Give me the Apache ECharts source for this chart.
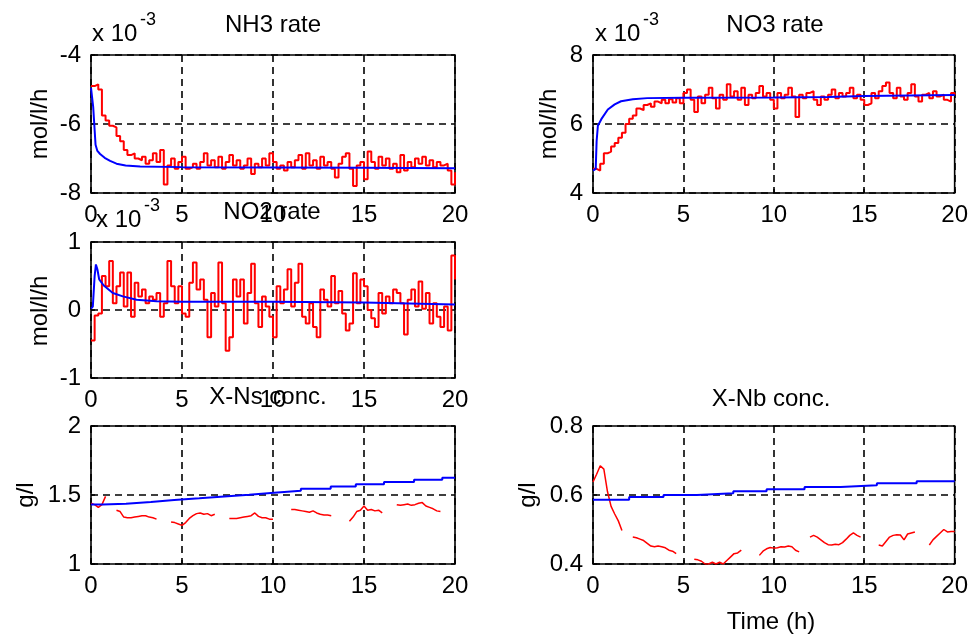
<!DOCTYPE html>
<html>
<head>
<meta charset="utf-8">
<script src="https://cdn.jsdelivr.net/npm/echarts@6/dist/echarts.min.js"></script>
<style>
html,body{margin:0;padding:0;background:#fff;}
#chart{width:971px;height:637px;}
</style>
</head>
<body>
<div id="chart"></div>
<script>
// ---- sample times of the measured (red) signals, hours ----
const tMeas = [0,0.2,0.4,0.6,0.8,1,1.2,1.4,1.6,1.8,2,2.2,2.4,2.6,2.8,3,3.2,3.4,3.6,3.8,4,4.2,4.4,4.6,4.8,5,5.2,5.4,5.6,5.8,6,6.2,6.4,6.6,6.8,7,7.2,7.4,7.6,7.8,8,8.2,8.4,8.6,8.8,9,9.2,9.4,9.6,9.8,10,10.2,10.4,10.6,10.8,11,11.2,11.4,11.6,11.8,12,12.2,12.4,12.6,12.8,13,13.2,13.4,13.6,13.8,14,14.2,14.4,14.6,14.8,15,15.2,15.4,15.6,15.8,16,16.2,16.4,16.6,16.8,17,17.2,17.4,17.6,17.8,18,18.2,18.4,18.6,18.8,19,19.2,19.4,19.6,19.8,20];

// ---- NH3 rate (x 1e-3 mol/l/h) ----
const nh3Meas = [-4.9,-4.85,-5.0,-5.75,-5.9,-6.05,-6.1,-6.35,-6.5,-6.75,
 -6.9,-6.85,-7.0,-7.05,-6.95,-7.15,-7.05,-6.85,-7.1,-6.75,
 -7.75,-7.2,-7.0,-7.3,-7.1,-6.95,-7.3,-7.25,-7.15,-7.3,
 -7.1,-6.85,-7.2,-7.05,-7.25,-6.95,-7.3,-7.1,-6.9,-7.2,
 -7.05,-7.3,-7.2,-7.0,-7.45,-7.15,-7.25,-7.0,-7.2,-6.85,
 -7.1,-7.3,-7.2,-7.35,-7.1,-7.25,-7.05,-6.9,-7.3,-6.85,
 -7.2,-7.05,-7.3,-6.95,-7.2,-7.1,-7.3,-7.55,-7.15,-6.95,
 -6.85,-7.3,-7.8,-7.2,-7.1,-7.6,-6.8,-7.1,-7.3,-6.95,
 -7.2,-7.0,-7.3,-7.15,-7.4,-6.9,-7.35,-7.1,-7.25,-7.0,
 -7.15,-6.95,-7.2,-7.05,-7.25,-7.1,-7.2,-7.15,-7.35,-7.75,
 -7.4];
const nh3ModelT = [0,0.1,0.12,0.22,0.25,0.35,0.5,0.75,1.05,1.4,1.9,2.7,5,10,15,20];
const nh3ModelV = [-4.95,-5.0,-5.5,-5.55,-6.6,-6.78,-6.87,-6.98,-7.07,-7.15,-7.2,-7.23,-7.25,-7.26,-7.27,-7.28];

// ---- NO3 rate (x 1e-3 mol/l/h) ----
const no3Meas = [4.7,4.65,4.85,5.15,5.2,5.35,5.45,5.6,5.75,6.0,
 6.15,6.25,6.45,6.4,6.55,6.6,6.5,6.65,6.6,6.7,
 6.6,6.72,6.62,6.75,6.6,6.9,7.0,6.7,6.35,6.8,
 6.6,6.85,7.05,6.75,6.45,6.85,6.7,7.15,6.8,6.95,
 6.7,7.05,6.55,6.85,6.75,6.9,7.1,6.8,6.9,6.7,
 6.45,6.9,6.75,6.85,7.05,6.8,6.2,6.85,6.75,6.9,
 6.95,6.7,6.55,6.8,6.7,6.85,7.0,6.75,6.9,6.8,
 6.9,7.05,6.75,6.85,6.7,6.55,6.6,6.9,6.75,6.95,
 7.1,7.2,6.9,6.75,7.05,6.8,6.7,6.9,7.15,6.8,
 6.65,6.85,6.9,6.75,6.95,6.8,6.85,6.7,6.65,6.9,
 6.85];
const no3ModelT = [0,0.15,0.2,0.27,0.46,0.82,1.2,1.55,2.2,3.0,5,10,13,15,20];
const no3ModelV = [4.65,4.7,5.5,5.95,6.14,6.42,6.57,6.66,6.72,6.75,6.76,6.77,6.78,6.81,6.84];

// ---- NO2 rate (x 1e-3 mol/l/h) ----
const no2Meas = [-0.45,-0.08,-0.05,0.5,0.35,0.72,0.1,0.35,0.55,0.05,
 0.55,-0.1,0.4,0.2,0.3,0.1,0.2,0.15,0.25,-0.1,
 0.1,0.72,0.35,0.1,0.35,-0.05,-0.1,0.4,0.7,0.3,
 0.45,0.15,-0.4,0.25,0.05,0.7,0.1,-0.6,-0.4,0.45,
 0.2,0.45,-0.2,0.25,0.68,0.1,-0.25,0.2,0.05,-0.1,
 -0.4,0.35,0.1,0.3,0.6,0.05,0.4,0.68,-0.1,-0.2,
 0.1,-0.25,-0.4,0.3,0.15,0.05,0.5,0.1,0.28,-0.05,
 -0.3,-0.2,0.54,0.1,0.45,0.35,0.0,-0.12,-0.25,0.25,
 -0.05,0.2,0.1,0.3,0.25,0.1,-0.36,0.15,0.3,0.05,
 0.42,0.02,0.25,-0.2,0.1,-0.1,-0.25,0.05,-0.3,0.8,
 0.45];
const no2ModelT = [0,0.1,0.2,0.27,0.35,0.45,0.7,1.2,1.75,2.5,3.6,5,10,15,20];
const no2ModelV = [0.02,0.05,0.5,0.67,0.6,0.45,0.36,0.25,0.2,0.15,0.13,0.12,0.12,0.11,0.08];

// ---- X-Ns concentration (g/l) ----
const xnsMeas = [1.44,1.43,1.41,1.43,1.49,null,null,1.39,1.38,1.34,
 1.335,1.335,1.34,1.345,1.35,1.35,1.34,1.335,1.325,null,
 null,null,1.305,1.3,1.29,1.28,1.3,1.33,1.35,1.365,
 1.37,1.36,1.365,1.35,1.36,null,null,null,1.33,1.33,
 1.33,1.335,1.34,1.345,1.35,1.37,1.345,1.335,1.335,1.325,
 1.325,null,null,null,null,1.395,1.395,1.39,1.385,1.38,
 1.375,1.385,1.37,1.36,1.355,1.355,1.35,null,null,null,
 null,1.31,1.34,1.38,1.39,1.42,1.39,1.395,1.385,1.39,
 1.37,null,null,null,1.43,1.425,1.43,1.435,1.425,1.43,
 1.44,1.445,1.42,1.41,1.4,1.385,1.38,null,null,null,
 null];
const xnsModelT = [0,0.64,1.92,3.29,4.57,5.95,7.32,8.69,10.06,11.53,13.17,14.55,16.1,17.75,19.3,20];
const xnsModelV = [1.432,1.437,1.45,1.463,1.476,1.49,1.502,1.516,1.53,1.546,1.562,1.578,1.595,1.61,1.625,1.625];

// ---- X-Nb concentration (g/l) ----
const xnbMeas = [0.638,0.66,0.685,0.675,0.61,0.567,0.545,0.525,0.497,null,
 null,0.478,0.476,0.472,0.468,0.46,0.452,0.45,0.452,0.45,
 0.447,0.44,0.437,0.43,null,null,null,null,0.414,0.412,
 0.408,0.4,0.4,0.405,0.4,0.405,0.4,0.41,0.42,0.43,
 0.432,0.44,null,null,null,null,0.425,0.437,0.444,0.448,
 0.446,0.447,0.45,0.449,0.452,0.45,0.44,0.435,null,null,
 0.478,0.483,0.478,0.47,0.462,0.456,0.455,0.457,0.456,0.462,
 0.472,0.483,0.49,0.483,0.478,null,null,null,null,0.455,
 0.452,0.465,0.478,0.483,0.485,0.484,0.47,0.487,0.49,0.493,
 null,null,null,0.455,0.47,0.48,0.49,0.5,0.493,0.494,
 0.494];
const xnbModelT = [0,2.0,3.9,5.75,7.76,9.6,11.7,13.7,15.7,17.9,20];
const xnbModelV = [0.586,0.594,0.6,0.605,0.611,0.617,0.623,0.628,0.634,0.64,0.64];

// ---- axes ----
const xTicks = {min:0, max:20, interval:5};
const yRanges = [
  {min:-8, max:-4, interval:2},
  {min:4, max:8, interval:2},
  {min:-1, max:1, interval:1},
  {min:1, max:2, interval:0.5},
  {min:0.4, max:0.8, interval:0.2}
];
const titles = ['NH3 rate','NO3 rate','NO2 rate','X-Ns conc.','X-Nb conc.'];
const yNames = ['mol/l/h','mol/l/h','mol/l/h','g/l','g/l'];

const FONT = '"Liberation Sans", Arial, Helvetica, sans-serif';
const grids = [
  {left:91, top:55, width:364, height:138},
  {left:593, top:55, width:365, height:138},
  {left:91, top:242, width:364, height:136},
  {left:91, top:426, width:364, height:138},
  {left:593, top:426, width:365, height:138}
];
const dash = {type:[7,5], color:'#000', width:1.6};

const zip = (a, b) => a.map((v, i) => [v, b[i]]);

const option = {
  backgroundColor:'#fff',
  animation:false,
  grid: grids.map(g => Object.assign({show:true, borderColor:'#000', borderWidth:1.6, backgroundColor:'#fff', containLabel:false}, g)),
  xAxis: grids.map((g, i) => ({
    type:'value', gridIndex:i, min:xTicks.min, max:xTicks.max, interval:xTicks.interval,
    axisLine:{show:false},
    axisTick:{show:true, inside:true, length:4, lineStyle:{color:'#000', width:1.5}},
    axisLabel:{color:'#000', fontSize:24, fontFamily:FONT, margin:10},
    splitLine:{show:true, lineStyle:dash}
  })),
  yAxis: grids.map((g, i) => ({
    type:'value', gridIndex:i, min:yRanges[i].min, max:yRanges[i].max, interval:yRanges[i].interval,
    axisLine:{show:false},
    axisTick:{show:true, inside:true, length:4, lineStyle:{color:'#000', width:1.5}},
    axisLabel:{color:'#000', fontSize:24, fontFamily:FONT, margin:10},
    splitLine:{show:true, lineStyle:dash}
  })),
  series: [],
  graphic: []
};

const meas = [nh3Meas, no3Meas, no2Meas, xnsMeas, xnbMeas];
const models = [[nh3ModelT,nh3ModelV],[no3ModelT,no3ModelV],[no2ModelT,no2ModelV],[xnsModelT,xnsModelV],[xnbModelT,xnbModelV]];
const measStep = [true, true, true, false, false];
const modelStep = [false, false, false, true, true];
const measWidth = [2, 2, 2, 1.5, 1.5];

meas.forEach((m, i) => {
  option.series.push({
    type:'line', xAxisIndex:i, yAxisIndex:i, symbol:'none', clip:true,
    step: measStep[i] ? 'end' : false,
    data: zip(tMeas, m),
    lineStyle:{color:'#ff0000', width:measWidth[i]},
    z:2
  });
  option.series.push({
    type:'line', xAxisIndex:i, yAxisIndex:i, symbol:'none', clip:true,
    step: modelStep[i] ? 'end' : false,
    data: zip(models[i][0], models[i][1]),
    lineStyle:{color:'#0000ff', width:2},
    z:3
  });
});

function txt(text, x, y, size, align, vAlign, rot) {
  return {
    type:'text', x:x, y:y, rotation: rot || 0, z:100,
    style:{text:text, fill:'#000', font: size + 'px ' + FONT,
      align:align, verticalAlign:vAlign, textAlign:align, textVerticalAlign:vAlign}
  };
}
const titlePos = [[273,25],[775,25],[272,212],[268,397],[771,399]];
titles.forEach((t, i) => option.graphic.push(txt(t, titlePos[i][0], titlePos[i][1], 24, 'center', 'middle')));
const yNamePos = [[40,124],[549,124],[40,311],[26,495],[528,495]];
yNames.forEach((t, i) => option.graphic.push(txt(t, yNamePos[i][0], yNamePos[i][1], 24, 'center', 'middle', Math.PI/2)));
option.graphic.push(txt('Time (h)', 771, 622, 24, 'center', 'middle'));
// exponent annotations
const expPos = [[92,34],[595,34],[96,220]];
expPos.forEach(p => {
  option.graphic.push(txt('x 10', p[0], p[1], 24, 'left', 'middle'));
  option.graphic.push(txt('-3', p[0] + 48, p[1] - 14, 18, 'left', 'middle'));
});

const chart = echarts.init(document.getElementById('chart'), null, {renderer:'canvas'});
chart.setOption(option);
</script>
</body>
</html>
